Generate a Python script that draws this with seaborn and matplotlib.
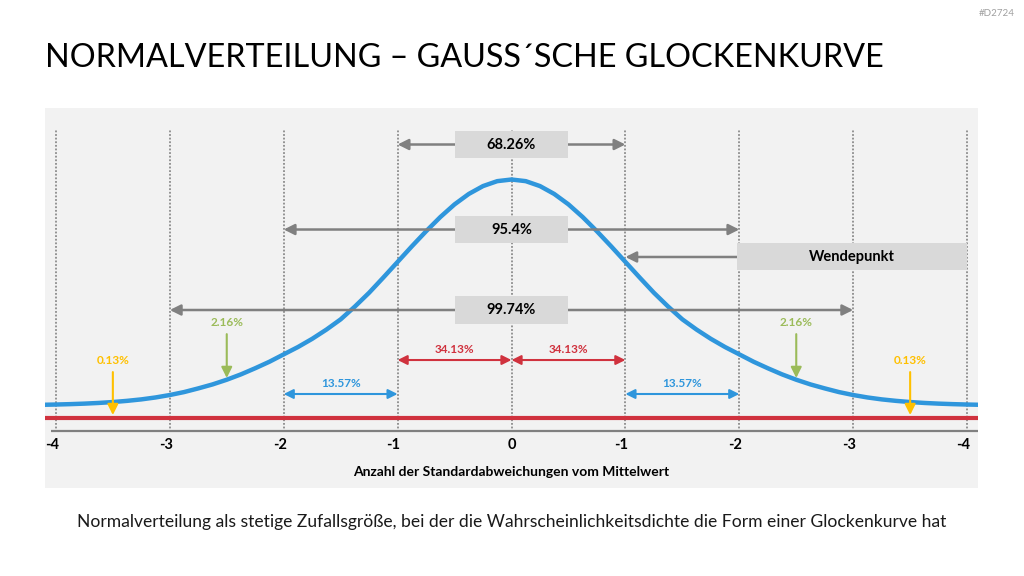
import matplotlib
matplotlib.use("Agg")
import matplotlib.pyplot as plt
import seaborn as sns
import pandas as pd
from matplotlib.patches import Rectangle

# ---------------- data ----------------
half_pos = [0.0, 0.125, 0.25, 0.375, 0.5, 0.625, 0.75, 0.875, 1.0, 1.125, 1.25, 1.375, 1.5,
            1.625, 1.75, 1.875, 2.0, 2.125, 2.25, 2.375, 2.5, 2.625, 2.75, 2.875, 3.0,
            3.125, 3.25, 3.375, 3.5, 3.625, 3.75, 3.875, 4.0, 4.1]
half_density = [0.3990, 0.3961, 0.3874, 0.3735, 0.3551, 0.3327, 0.3076, 0.2810, 0.2535,
                0.2260, 0.1991, 0.1747, 0.1521, 0.1340, 0.1177, 0.1032, 0.0903, 0.0773,
                0.0658, 0.0550, 0.0455, 0.0372, 0.0302, 0.0237, 0.0185, 0.0142, 0.0108,
                0.0082, 0.0061, 0.0045, 0.0033, 0.0024, 0.0017, 0.0013]
sigma_pos = [-p for p in half_pos[:0:-1]] + half_pos
density = half_density[:0:-1] + half_density

grid_pos = [-4, -3, -2, -1, 0, 1, 2, 3, 4]
tick_labels = ["-4", "-3", "-2", "-1", "0", "-1", "-2", "-3", "-4"]
range_labels = ["68.26%", "95.4%", "99.74%"]
range_widths = [1, 2, 3]
center_pct = "34.13%"
mid_pct = "13.57%"
tail_pct = "2.16%"
far_pct = "0.13%"

# ---------------- style ----------------
sns.set_theme(style="white")
plt.rcParams["font.family"] = ["Lato", "DejaVu Sans"]

BLUE = "#2f96dc"
RED = "#d0323e"
GREEN = "#9bbb59"
YELLOW = "#ffc000"
GRAY = "#808080"
BOX = "#d9d9d9"
PANEL = "#f2f2f2"

fig = plt.figure(figsize=(10.24, 5.76), dpi=100)
fig.patch.set_facecolor("white")
ax = fig.add_axes([45 / 1024, 1 - 488 / 576, 933 / 1024, 380 / 576])
ax.set_facecolor(PANEL)
ax.set_xlim(-4.0957, 4.0957)
ax.set_ylim(-0.14566, 0.52525)
for s in ax.spines.values():
    s.set_visible(False)
ax.set_xticks([])
ax.set_yticks([])

# dotted verticals
ax.vlines(grid_pos, -0.047, 0.486, colors="#8c8c8c", linestyles=(0, (1, 1)), lw=1.3, zorder=1)
# gray axis line
ax.hlines(-0.045, -4.045, 4.0957, colors=GRAY, lw=1.6, zorder=2)
# red base line
ax.axhline(-0.0221, color=RED, lw=3, zorder=3)

# bell curve
df = pd.DataFrame({"sigma": sigma_pos, "density": density})
sns.lineplot(data=df, x="sigma", y="density", ax=ax, color=BLUE, lw=3.2, zorder=4, sort=False)
ax.set_xlabel("")
ax.set_ylabel("")

# tick labels
for p, lab in zip(grid_pos, tick_labels):
    off = -0.035 if lab.startswith("-") else 0
    ax.text(p + off, -0.0697, lab, ha="center", va="center", fontsize=10.5,
            fontweight="bold", color="black")

ax.text(0, -0.1175, "Anzahl der Standardabweichungen vom Mittelwert", ha="center",
        va="center", fontsize=10, fontweight="bold", color="black")

box_h = 0.0477
def gray_arrow(x0, x1, y):
    ax.annotate("", xy=(x1, y), xytext=(x0, y),
                arrowprops=dict(arrowstyle="-|>", color=GRAY, lw=1.8, mutation_scale=16,
                                shrinkA=0, shrinkB=0), zorder=5)

# range boxes
box_centers = [0.4608, 0.3107, 0.1686]
for lab, w, yc in zip(range_labels, range_widths, box_centers):
    ax.add_patch(Rectangle((-0.496, yc - box_h / 2), 0.992, box_h, facecolor=BOX,
                           edgecolor="none", zorder=6))
    ax.text(0, yc, lab, ha="center", va="center", fontsize=10.5, fontweight="bold",
            color="black", zorder=7)
    gray_arrow(-0.496, -w, yc)
    gray_arrow(0.496, w, yc)

# Wendepunkt
yc = 0.2622
ax.add_patch(Rectangle((1.98, yc - box_h / 2), 2.02, box_h, facecolor=BOX,
                       edgecolor="none", zorder=6))
ax.text(2.99, yc, "Wendepunkt", ha="center", va="center", fontsize=10.5,
        fontweight="bold", color="black", zorder=7)
gray_arrow(1.98, 1.0, yc)

# double arrows
def dbl(x0, x1, y, color):
    ax.annotate("", xy=(x1, y), xytext=(x0, y),
                arrowprops=dict(arrowstyle="<|-|>", color=color, lw=1.5, mutation_scale=14,
                                shrinkA=0, shrinkB=0), zorder=5)

for a, b in [(-1, 0), (0, 1)]:
    dbl(a, b, 0.0803, RED)
    ax.text((a + b) / 2, 0.098, center_pct, ha="center", va="center", fontsize=8.5,
            fontweight="bold", color=RED)
for a, b in [(-2, -1), (1, 2)]:
    dbl(a, b, 0.0203, BLUE)
    ax.text((a + b) / 2, 0.038, mid_pct, ha="center", va="center", fontsize=8.5,
            fontweight="bold", color=BLUE)

def down(x, y0, y1, color):
    ax.annotate("", xy=(x, y1), xytext=(x, y0),
                arrowprops=dict(arrowstyle="-|>", color=color, lw=1.5, mutation_scale=16,
                                shrinkA=0, shrinkB=0), zorder=5)

for x in (-2.5, 2.5):
    down(x, 0.126, 0.0486, GREEN)
    ax.text(x, 0.1457, tail_pct, ha="center", va="center", fontsize=8.5,
            fontweight="bold", color=GREEN)
for x in (-3.5, 3.5):
    down(x, 0.059, -0.0168, YELLOW)
    ax.text(x, 0.0786, far_pct, ha="center", va="center", fontsize=8.5,
            fontweight="bold", color=YELLOW)

# titles
fig.text(45 / 1024, 1 - 58 / 576, "NORMALVERTEILUNG – GAUSS´SCHE GLOCKENKURVE",
         ha="left", va="center", fontsize=23.3, color="black")
fig.text(1015 / 1024, 1 - 13 / 576, "#D2724", ha="right", va="center", fontsize=7,
         color="#a0a0a0")
fig.text(512 / 1024, 1 - 522 / 576,
         "Normalverteilung als stetige Zufallsgröße, bei der die Wahrscheinlichkeitsdichte die Form einer Glockenkurve hat",
         ha="center", va="center", fontsize=12.6, color="#1a1a1a")

fig.savefig("out.png", dpi=100, facecolor="white")
